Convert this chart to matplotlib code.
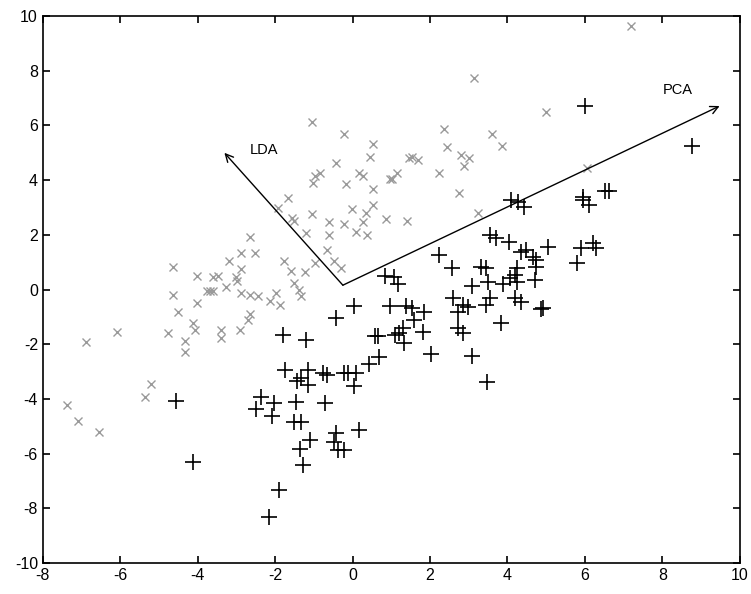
import matplotlib
matplotlib.use('Agg')
import matplotlib.pyplot as plt
import numpy as np

# class 1 (grey crosses)
x1 = [7.2, 3.14, -1.04, -0.21, 2.35, 3.59, 5.0, 6.05,
      0.54, 0.44, -0.42, -0.85, -0.96, -1.01, -0.16, 0.16, 0.28, 0.54, 0.96, 1.03, 1.14,
      1.47, 1.54, 1.69, 2.23, 2.44, 2.81, 3.02, 2.89, 2.76, 3.85,
      -1.67, -1.93, -1.04, -1.56, -1.52, -0.01, 0.52, 0.34, 0.87, 1.40, -0.62, -0.21, 0.28,
      0.09, 0.37, -0.62, -1.21, -0.66, -0.47, -0.29, -0.96, -1.58, -1.24, -1.5, -1.39, -1.33, 3.24,
      -2.66, -2.87, -2.52, -3.2, -2.88, -3.02, -2.99, -3.28, -2.88, -2.66, -2.44, -3.61, -3.48,
      -4.02, -3.75, -3.68, -3.61, -4.64, -4.64, -4.51, -4.02, -4.11, -4.06, -4.77, -4.32, -4.32,
      -3.39, -3.39, -2.9, -2.69, -2.66, -2.12, -1.99, -1.87, -6.09, -6.88, -5.2, -1.76, -5.35,
      -7.37, -7.08, -6.56]
y1 = [9.63, 7.72, 6.13, 5.67, 5.86, 5.67, 6.49, 4.44,
      5.32, 4.86, 4.61, 4.27, 4.16, 3.88, 3.86, 4.27, 4.15, 3.67, 4.03, 4.04, 4.25,
      4.81, 4.83, 4.73, 4.27, 5.21, 4.92, 4.8, 4.52, 3.52, 5.26,
      3.33, 2.97, 2.75, 2.6, 2.52, 2.93, 3.09, 2.79, 2.57, 2.5, 2.46, 2.38, 2.46,
      2.11, 1.99, 1.99, 2.05, 1.44, 1.05, 0.8, 0.98, 0.69, 0.65, 0.23, -0.02, -0.24, 2.79,
      1.93, 1.35, 1.35, 1.05, 0.75, 0.45, 0.3, 0.1, -0.14, -0.21, -0.24, 0.45, 0.49,
      0.5, -0.05, -0.05, -0.05, 0.81, -0.2, -0.83, -0.48, -1.24, -1.48, -1.6, -1.88, -2.3,
      -1.46, -1.76, -1.48, -1.12, -0.9, -0.42, -0.12, -0.57, -1.54, -1.91, -3.46, 1.04, -3.94,
      -4.22, -4.82, -5.22]

# class 2 (black plus signs)
x2 = [6.0, 8.77, 6.52, 6.62, 5.94, 5.95, 6.11,
      5.05, 5.91, 6.21, 6.3, 5.8, 4.88,
      4.08, 4.27, 4.44, 3.54, 3.71, 4.03, 4.36, 4.49, 4.66, 4.73, 4.75, 2.23, 2.58, 3.33, 3.45,
      4.25, 4.19, 4.06, 4.7, 3.09, 3.5, 3.88, 4.25, 2.59, 2.85, 2.98, 2.72, 3.54, 3.45, 4.19,
      4.36, 4.92, 3.84, 2.72, 2.85,
      0.83, 1.07, 1.17, 0.05, -0.42, 0.96, 1.39, 1.54, 1.84, 1.58, 1.3, 1.82, 1.2, 1.09, 1.34,
      0.57, 0.65, -1.2, 2.03, 3.09, 0.68, 0.42, 3.47,
      -1.8, -1.74, -1.44, -1.33, -1.15, -1.15, -0.77, -0.66, -0.21, -0.12, 0.1, 0.05, -2.36,
      -2.49, -2.04, -2.07, -1.45, -0.71, -1.5, -1.33, -1.11, -1.37, -1.28, -0.42, -0.47, -0.38,
      -0.23, 0.16, -4.56, -4.11, -1.89, -2.16]
y2 = [6.71, 5.26, 3.62, 3.62, 3.39, 3.27, 3.09,
      1.57, 1.51, 1.69, 1.51, 0.98, -0.71,
      3.27, 3.21, 3.03, 1.99, 1.87, 1.75, 1.38, 1.44, 1.2, 1.08, 0.83, 1.26, 0.78, 0.81, 0.78,
      0.78, 0.53, 0.41, 0.35, 0.13, 0.29, 0.19, 0.26, -0.32, -0.57, -0.63, -0.81, -0.32, -0.57, -0.32,
      -0.45, -0.69, -1.21, -1.42, -1.6,
      0.49, 0.45, 0.2, -0.6, -1.03, -0.6, -0.6, -0.69, -0.81, -1.12, -1.42, -1.54, -1.6, -1.66, -1.94,
      -1.69, -1.69, -1.85, -2.36, -2.42, -2.48, -2.72, -3.37,
      -1.66, -2.94, -3.33, -3.25, -2.94, -3.49, -3.06, -3.13, -3.06, -3.06, -3.06, -3.53, -3.92,
      -4.35, -4.16, -4.63, -4.1, -4.16, -4.83, -4.83, -5.5, -5.84, -6.42, -5.24, -5.56, -5.87,
      -5.87, -5.14, -4.07, -6.3, -7.33, -8.33]

# projection directions
origin = (-0.25, 0.16)
pca_tip = (9.48, 6.71)
lda_tip = (-3.31, 5.0)

plt.rcParams['font.family'] = ['Liberation Sans', 'DejaVu Sans']
plt.rcParams['axes.unicode_minus'] = False

fig = plt.figure(figsize=(7.51, 5.94), dpi=100)
ax = fig.add_axes([0.057, 0.052, 0.928, 0.921])

ax.plot(x1, y1, 'x', color='#9a9a9a', markersize=6, markeredgewidth=1.0)
ax.plot(x2, y2, '+', color='black', markersize=11, markeredgewidth=1.2)

arrow = dict(arrowstyle='->', color='black', lw=1.0, shrinkA=0, shrinkB=0,
             mutation_scale=14)
ax.annotate('', xy=pca_tip, xytext=origin, arrowprops=arrow)
ax.annotate('', xy=lda_tip, xytext=origin, arrowprops=arrow)
ax.text(8.0, 7.3, 'PCA', fontsize=10.5, va='center', ha='left')
ax.text(-2.66, 5.1, 'LDA', fontsize=10.5, va='center', ha='left')

ax.set_xlim(-8, 10)
ax.set_ylim(-10, 10)
ax.set_xticks(np.arange(-8, 11, 2))
ax.set_yticks(np.arange(-10, 11, 2))
ax.tick_params(direction='in', top=True, right=True, length=5, width=1.2,
               labelsize=11.5)
for s in ax.spines.values():
    s.set_linewidth(1.2)

fig.savefig('out.png', dpi=100)
